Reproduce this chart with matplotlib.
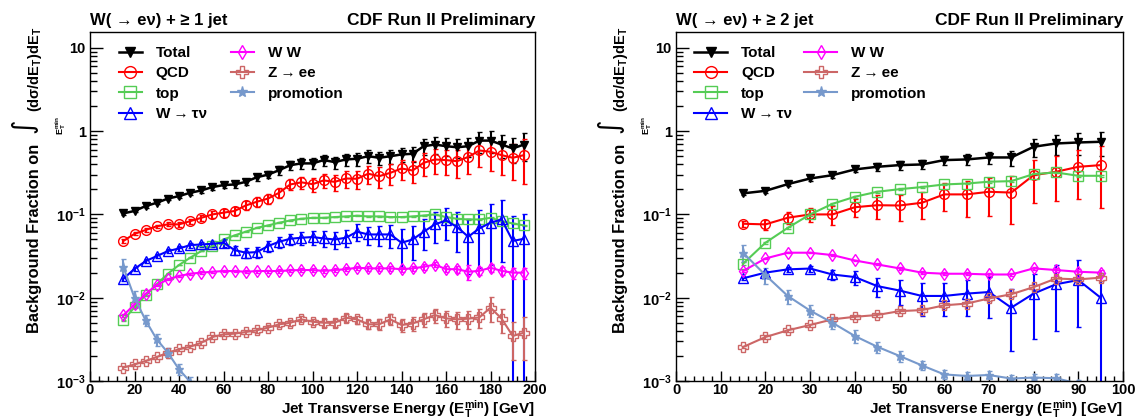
import matplotlib
matplotlib.use('Agg')
import matplotlib.pyplot as plt
import numpy as np
from matplotlib.lines import Line2D
from matplotlib.ticker import FixedLocator, FixedFormatter, MultipleLocator, NullFormatter

plt.rcParams['font.family'] = ['Liberation Sans', 'DejaVu Sans']
plt.rcParams['font.weight'] = 'bold'
plt.rcParams['mathtext.fontset'] = 'custom'
plt.rcParams['mathtext.rm'] = 'Liberation Sans:bold'
plt.rcParams['mathtext.it'] = 'Liberation Sans:bold'
plt.rcParams['mathtext.bf'] = 'Liberation Sans:bold'

# ---- W + >=1 jet (x = 15 ... 195 GeV) ----
et_1jet = np.arange(15, 200, 5)
total_1jet = [0.103, 0.11, 0.126, 0.138, 0.155, 0.166, 0.182, 0.194, 0.213, 0.225, 0.229, 0.246, 0.28, 0.30,
              0.34, 0.39, 0.41, 0.41, 0.449, 0.425, 0.457, 0.466, 0.50, 0.479, 0.50, 0.525, 0.535, 0.66,
              0.69, 0.66, 0.64, 0.66, 0.77, 0.77, 0.69, 0.62, 0.69]
total_1jet_err = [0.004, 0.004, 0.005, 0.006, 0.007, 0.008, 0.01, 0.012, 0.015, 0.017, 0.02, 0.022, 0.027, 0.03,
                  0.04, 0.05, 0.06, 0.06, 0.07, 0.07, 0.08, 0.08, 0.09, 0.09, 0.1, 0.1, 0.11, 0.14,
                  0.16, 0.16, 0.16, 0.17, 0.22, 0.23, 0.22, 0.21, 0.25]
qcd_1jet = [0.048, 0.0585, 0.065, 0.072, 0.076, 0.076, 0.083, 0.091, 0.10, 0.105, 0.11, 0.128, 0.142, 0.155,
            0.182, 0.229, 0.243, 0.231, 0.256, 0.246, 0.27, 0.268, 0.308, 0.288, 0.316, 0.356, 0.337, 0.417,
            0.457, 0.449, 0.436, 0.49, 0.586, 0.565, 0.515, 0.479, 0.515]
qcd_1jet_err = [0.002, 0.0025, 0.003, 0.003, 0.004, 0.005, 0.006, 0.008, 0.009, 0.011, 0.012, 0.015, 0.018, 0.021,
                0.026, 0.035, 0.04, 0.045, 0.05, 0.055, 0.06, 0.065, 0.075, 0.08, 0.09, 0.1, 0.1, 0.13,
                0.15, 0.15, 0.16, 0.18, 0.22, 0.23, 0.22, 0.22, 0.28]
top_1jet = [0.00535, 0.0077, 0.0107, 0.0145, 0.0194, 0.0247, 0.0302, 0.0363, 0.0417, 0.05, 0.056, 0.062, 0.069,
            0.0738, 0.0794, 0.0847, 0.0886, 0.091, 0.091, 0.093, 0.0946, 0.0964, 0.0946, 0.0946, 0.093, 0.093,
            0.0946, 0.097, 0.1, 0.093, 0.0886, 0.087, 0.087, 0.091, 0.083, 0.078, 0.0738]
top_1jet_err = [0.0001, 0.0001, 0.0002, 0.0002, 0.0003, 0.0003, 0.0004, 0.0004, 0.0005, 0.0005, 0.0006, 0.0006,
                0.0007, 0.0007, 0.0008, 0.0008, 0.0009, 0.0009, 0.001, 0.001, 0.001, 0.001, 0.001, 0.001, 0.001,
                0.001, 0.001, 0.001, 0.001, 0.001, 0.001, 0.001, 0.001, 0.001, 0.001, 0.001, 0.001]
wtau_1jet = [0.0169, 0.0222, 0.0275, 0.0316, 0.0363, 0.039, 0.0428, 0.0436, 0.0444, 0.0457, 0.0373, 0.0347,
             0.0353, 0.0417, 0.047, 0.051, 0.0525, 0.0535, 0.0515, 0.05, 0.0525, 0.062, 0.0575, 0.0575, 0.0575,
             0.0457, 0.05, 0.062, 0.0759, 0.0847, 0.0705, 0.054, 0.068, 0.0794, 0.087, 0.048, 0.051]
wtau_1jet_err = [0.001, 0.0012, 0.0015, 0.0018, 0.002, 0.0025, 0.003, 0.0035, 0.004, 0.0045, 0.005, 0.005,
                 0.0055, 0.006, 0.007, 0.008, 0.009, 0.01, 0.011, 0.012, 0.012, 0.014, 0.014, 0.016, 0.018,
                 0.022, 0.022, 0.025, 0.03, 0.035, 0.035, 0.035, 0.045, 0.055, 0.06, 0.048, 0.05]
ww_1jet = [0.00614, 0.0083, 0.0111, 0.0142, 0.0166, 0.0182, 0.0194, 0.02, 0.0205, 0.0209, 0.0209, 0.0205,
           0.0209, 0.0209, 0.0209, 0.0213, 0.0215, 0.0215, 0.021, 0.0215, 0.022, 0.0229, 0.0225, 0.0225,
           0.0225, 0.022, 0.0225, 0.0235, 0.025, 0.022, 0.022, 0.0205, 0.021, 0.0229, 0.021, 0.020, 0.020]
ww_1jet_err = [0.0003, 0.0003, 0.0004, 0.0005, 0.0005, 0.0006, 0.0006, 0.0007, 0.0007, 0.0008, 0.0008, 0.0008,
               0.0009, 0.0009, 0.001, 0.001, 0.001, 0.0011, 0.0011, 0.0012, 0.0012, 0.0013, 0.0013, 0.0014,
               0.0015, 0.0015, 0.0016, 0.0017, 0.0018, 0.0019, 0.002, 0.004, 0.0025, 0.0025, 0.0025, 0.003, 0.003]
zee_1jet = [0.00145, 0.00158, 0.00174, 0.00194, 0.00219, 0.0024, 0.00258, 0.00288, 0.00337, 0.00363, 0.0037,
            0.00387, 0.00406, 0.00437, 0.00479, 0.005, 0.0055, 0.00515, 0.005, 0.005, 0.00575, 0.0055, 0.00479,
            0.0048, 0.0055, 0.0047, 0.0049, 0.0055, 0.0062, 0.00565, 0.0055, 0.0056, 0.0058, 0.0076, 0.0056,
            0.00347, 0.0038]
zee_1jet_err = [0.00005, 0.00006, 0.00007, 0.00008, 0.0001, 0.0001, 0.00012, 0.00014, 0.00018, 0.0002, 0.00022,
                0.00025, 0.00028, 0.0003, 0.00035, 0.0004, 0.00045, 0.00045, 0.0005, 0.0005, 0.0006, 0.0006,
                0.0006, 0.0007, 0.0008, 0.0008, 0.0009, 0.001, 0.0012, 0.0012, 0.0013, 0.0014, 0.0015, 0.0025,
                0.0018, 0.0017, 0.002]
promo_1jet = [0.0233, 0.01, 0.00535, 0.00316, 0.00219, 0.00138, 0.00098]
promo_1jet_err = [0.006, 0.002, 0.0008, 0.0005, 0.0003, 0.0002, 0.00015]

# ---- W + >=2 jet (x = 15 ... 95 GeV) ----
et_2jet = np.arange(15, 100, 5)
total_2jet = [0.179, 0.192, 0.231, 0.27, 0.296, 0.347, 0.373, 0.391, 0.398, 0.449, 0.457, 0.483, 0.483,
              0.649, 0.711, 0.731, 0.745]
total_2jet_err = [0.008, 0.01, 0.012, 0.015, 0.02, 0.025, 0.04, 0.045, 0.05, 0.06, 0.07, 0.08, 0.1,
                  0.16, 0.19, 0.22, 0.24]
qcd_2jet = [0.0773, 0.0759, 0.0912, 0.1, 0.1, 0.122, 0.129, 0.128, 0.138, 0.174, 0.174, 0.187, 0.183,
            0.296, 0.325, 0.373, 0.391]
qcd_2jet_err = [0.007, 0.01, 0.015, 0.02, 0.025, 0.03, 0.04, 0.045, 0.05, 0.065, 0.08, 0.09, 0.107,
                0.16, 0.18, 0.22, 0.27]
top_2jet = [0.0256, 0.0457, 0.069, 0.1, 0.134, 0.163, 0.187, 0.201, 0.213, 0.229, 0.235, 0.247, 0.251,
            0.305, 0.319, 0.291, 0.291]
top_2jet_err = [0.001, 0.0015, 0.002, 0.003, 0.003, 0.004, 0.004, 0.005, 0.005, 0.005, 0.006, 0.006, 0.006,
                0.007, 0.007, 0.007, 0.007]
wtau_2jet = [0.0171, 0.02, 0.0219, 0.0224, 0.019, 0.0177, 0.0138, 0.0122, 0.0105, 0.0105, 0.0112, 0.0117,
             0.0076, 0.0112, 0.0145, 0.0163, 0.01]
wtau_2jet_err = [0.0008, 0.001, 0.0015, 0.0018, 0.0025, 0.0033, 0.0035, 0.004, 0.0045, 0.0045, 0.0052,
                 0.006, 0.0053, 0.008, 0.0105, 0.0118, 0.0099]
ww_2jet = [0.0209, 0.0296, 0.0347, 0.0347, 0.0325, 0.028, 0.0251, 0.0225, 0.02, 0.0194, 0.0194, 0.019, 0.019,
           0.0225, 0.0215, 0.0205, 0.02]
ww_2jet_err = [0.0005, 0.0006, 0.0007, 0.0007, 0.0007, 0.0007, 0.0007, 0.0007, 0.0007, 0.0008, 0.0008,
               0.0008, 0.0009, 0.001, 0.0012, 0.0014, 0.0016]
zee_2jet = [0.00256, 0.00337, 0.00406, 0.0047, 0.0055, 0.0059, 0.0062, 0.0069, 0.0071, 0.0081, 0.0085,
            0.0098, 0.011, 0.0134, 0.017, 0.0166, 0.0174]
zee_2jet_err = [0.0001, 0.00015, 0.0002, 0.0002, 0.00025, 0.0003, 0.0003, 0.00035, 0.0004, 0.0005, 0.0006,
                0.0007, 0.0008, 0.001, 0.0012, 0.0013, 0.0014]
promo_2jet = [0.0347, 0.0187, 0.0105, 0.007, 0.005, 0.00347, 0.00258, 0.002, 0.00154, 0.0012, 0.00115,
              0.00118, 0.00107, 0.0011, 0.00108, 0.00093]
promo_2jet_err = [0.008, 0.004, 0.002, 0.0012, 0.0008, 0.0006, 0.0004, 0.0003, 0.0002, 0.00015, 0.00013,
                  0.00013, 0.00012, 0.00012, 0.00012, 0.0001]

labels = ['Total', 'QCD', 'top', 'W\u2009→\u2009τν', 'W W', 'Z\u2009→\u2009ee', 'promotion']
styles = [
    dict(color='black', marker='v', ms=5.5, mfc='black', lw=1.8),
    dict(color='#ff0000', marker='o', ms=7, mfc='none', lw=1.5),
    dict(color='#55cc55', marker='s', ms=6.5, mfc='none', lw=1.5),
    dict(color='#0000ff', marker='^', ms=7.5, mfc='none', lw=1.5),
    dict(color='#ff00ff', marker='d', ms=6, mfc='none', lw=1.5),
    dict(color='#cc6666', marker='P', ms=7, mfc='none', lw=1.5),
    dict(color='#7799cc', marker='*', ms=6.5, mfc='#7799cc', lw=1.5),
]

W, H = 1135, 419
fig = plt.figure(figsize=(W / 100, H / 100), dpi=100)
ax1 = fig.add_axes([90 / W, 38 / H, 445 / W, 349 / H])
ax2 = fig.add_axes([676 / W, 38 / H, 447 / W, 349 / H])


def ylabel_parts(x0):
    # ROOT style title: text, big integral with lower limit, then the integrand
    fig.text((x0 + 39) / W, 1 - 333 / H, 'Background Fraction on', ha='left', va='baseline',
             rotation=90, rotation_mode='anchor', fontsize=11.8)
    fig.text((x0 + 23) / W, 1 - 126 / H, '∫', ha='center', va='center', rotation=90,
             rotation_mode='anchor', fontsize=20, family='DejaVu Sans', fontweight='normal')
    fig.text((x0 + 61) / W, 1 - 126 / H, r'E$_T^{min}$', ha='center', va='center', rotation=90,
             rotation_mode='anchor', fontsize=6.5)
    fig.text((x0 + 39) / W, 1 - 112 / H, r'(d$\sigma$/dE$_T$)dE$_T$', ha='left', va='baseline',
             rotation=90, rotation_mode='anchor', fontsize=10.5)


def draw_panel(ax, x, series, xmax, xmajor, xminor, title, leg_x, hlen, cspace):
    ax.set_yscale('log')
    for (y, err), st in zip(series, styles):
        n = len(y)
        ax.errorbar(x[:n], y, yerr=err, color=st['color'], marker=st['marker'], ms=st['ms'],
                    mfc=st['mfc'], mec=st['color'], mew=1.0, lw=st['lw'], elinewidth=1.5,
                    capsize=1.8, capthick=1.5)
    ax.set_xlim(0, xmax)
    ax.set_ylim(1e-3, 15.5)
    ax.xaxis.set_major_locator(MultipleLocator(xmajor))
    ax.xaxis.set_minor_locator(MultipleLocator(xminor))
    ax.yaxis.set_major_locator(FixedLocator([1e-3, 1e-2, 1e-1, 1, 10]))
    ax.yaxis.set_major_formatter(FixedFormatter([r'10$^{-3}$', r'10$^{-2}$', r'10$^{-1}$', '1', '10']))
    minors = [m * 10.0 ** e for e in range(-3, 2) for m in range(2, 10)]
    ax.yaxis.set_minor_locator(FixedLocator([v for v in minors if v < 15.5]))
    ax.yaxis.set_minor_formatter(NullFormatter())
    ax.tick_params(axis='both', which='both', direction='in', top=False, right=False, width=1.0,
                   labelsize=10.5)
    ax.tick_params(axis='y', which='major', length=9.5, pad=3)
    ax.tick_params(axis='y', which='minor', length=5)
    ax.tick_params(axis='x', which='major', length=7, pad=1.5)
    ax.tick_params(axis='x', which='minor', length=3.5)
    for sp in ax.spines.values():
        sp.set_linewidth(1.0)

    ax.text(0.0, 1.012, title, transform=ax.transAxes, ha='left', va='bottom', fontsize=12)
    ax.text(1.0, 1.012, 'CDF Run II Preliminary', transform=ax.transAxes, ha='right', va='bottom',
            fontsize=12.5)
    ax.text(1.0, -0.0946, r'Jet Transverse Energy (E$_T^{min}$) [GeV]', transform=ax.transAxes,
            ha='right', va='baseline', fontsize=11)

    handles = [Line2D([], [], color=st['color'], marker=st['marker'], ms=st['ms'] + 1.5, mfc=st['mfc'],
                      mec=st['color'], mew=1.0, lw=st['lw']) for st in styles]
    ax.legend(handles, labels, ncol=2, loc='upper left', bbox_to_anchor=(leg_x, 0.96), frameon=False,
              fontsize=11, handlelength=hlen, handletextpad=0.9, columnspacing=cspace, labelspacing=0.42,
              numpoints=1, borderaxespad=0.0, borderpad=0.0)


series_1jet = [(total_1jet, total_1jet_err), (qcd_1jet, qcd_1jet_err), (top_1jet, top_1jet_err),
               (wtau_1jet, wtau_1jet_err), (ww_1jet, ww_1jet_err), (zee_1jet, zee_1jet_err),
               (promo_1jet, promo_1jet_err)]
series_2jet = [(total_2jet, total_2jet_err), (qcd_2jet, qcd_2jet_err), (top_2jet, top_2jet_err),
               (wtau_2jet, wtau_2jet_err), (ww_2jet, ww_2jet_err), (zee_2jet, zee_2jet_err),
               (promo_2jet, promo_2jet_err)]

draw_panel(ax1, et_1jet, series_1jet, 200, 20, 4, 'W( → eν) + ≥ 1 jet', 0.065, 1.5, 1.6)
draw_panel(ax2, et_2jet, series_2jet, 100, 10, 2, 'W( → eν) + ≥ 2 jet', 0.04, 2.2, 0.75)
ylabel_parts(0)
ylabel_parts(586)

fig.savefig('out.png', dpi=100)
